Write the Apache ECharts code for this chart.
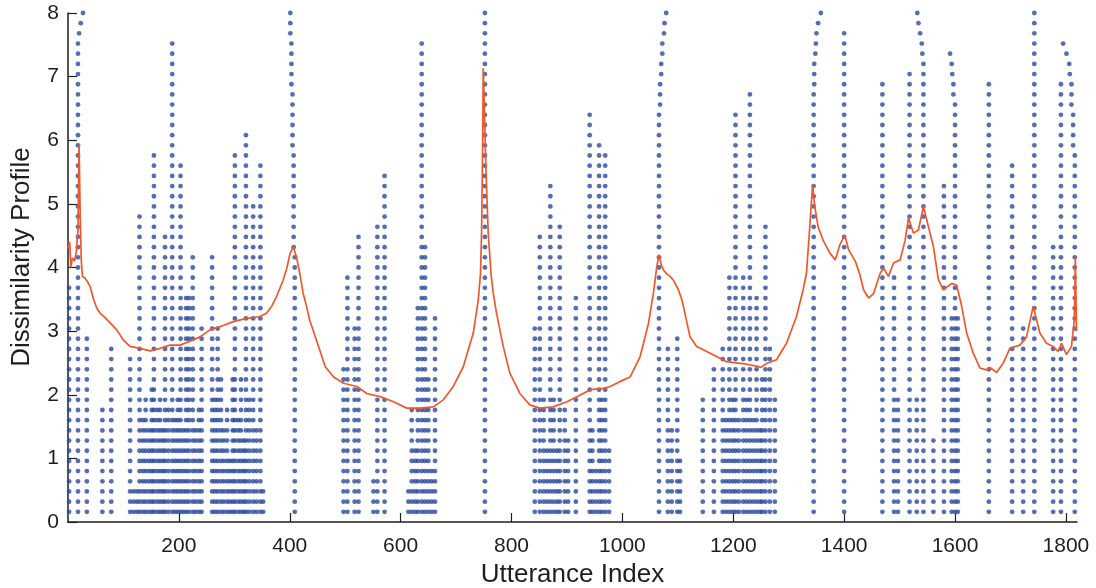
<!DOCTYPE html>
<html>
<head>
<meta charset="utf-8">
<script src="https://cdn.jsdelivr.net/npm/echarts@6/dist/echarts.min.js"></script>
<style>
html,body{margin:0;padding:0;background:#fff;}
#chart{width:1096px;height:588px;}
</style>
</head>
<body>
<div id="chart"></div>
<script>
// ---- data ----
// dot columns: utterance index, first row, last row (rows are multiples of rowStep)
const rowStep = 0.16;
const dotColX = [
  2, 18, 20, 23, 27, 34, 62, 78,
  112, 118, 124, 129, 135, 140, 146, 151, 155, 161, 166, 171, 175, 181, 188, 193, 198, 203, 208, 213, 218, 225, 230, 236, 241,
  260, 265, 270, 276, 281, 287, 292, 297, 301, 307, 312, 317, 321, 327, 334, 340, 347, 352,
  409, 407, 405, 403, 401,
  497, 504, 517, 524, 551, 558, 571,
  614, 620, 626, 631, 638, 644, 650, 656, 662,
  752,
  842, 851, 858, 864, 870, 876, 882, 887, 896, 902, 916,
  941, 946, 952, 958, 963, 969, 976,
  1066, 1068, 1070, 1072, 1075, 1076, 1079, 1082, 1089, 1099, 1104,
  1145,
  1165, 1181, 1187, 1193, 1199, 1204, 1210, 1218, 1224, 1230, 1236, 1242, 1248, 1252, 1258, 1266, 1275,
  1345, 1346, 1348, 1349, 1350, 1353, 1358,
  1400,
  1469, 1490, 1497, 1518, 1531, 1543, 1541, 1540, 1537, 1534, 1532, 1561,
  1580, 1594, 1600, 1597, 1595, 1594, 1591, 1605,
  1661, 1703, 1723, 1743,
  1777, 1791, 1816, 1813, 1810, 1807, 1806, 1801, 1795
];
const dotColFrom = [
  1, 1, 48, 49, 50, 1, 1, 1,
  1, 1, 1, 1, 1, 1, 1, 1, 1, 1, 1, 1, 1, 1, 1, 1, 1, 1, 1, 1, 1, 1, 1, 1, 1,
  1, 1, 1, 1, 1, 1, 1, 1, 1, 1, 1, 1, 1, 1, 1, 1, 1, 1,
  1, 27, 37, 43, 48,
  1, 1, 1, 1, 1, 1, 1,
  1, 1, 1, 1, 1, 1, 1, 1, 1,
  1,
  1, 1, 1, 1, 1, 1, 1, 1, 1, 1, 1,
  1, 1, 1, 1, 1, 1, 1,
  1, 41, 44, 46, 48, 49, 50, 1, 1, 1, 1,
  1,
  1, 1, 1, 1, 1, 1, 1, 1, 1, 1, 1, 1, 1, 1, 1, 1, 1,
  1, 43, 46, 47, 48, 49, 50,
  1,
  1, 1, 1, 1, 1, 1, 46, 47, 48, 49, 50, 1,
  1, 1, 1, 42, 44, 45, 46, 1,
  1, 1, 1, 1,
  1, 1, 1, 37, 41, 44, 45, 46, 47
];
const dotColTo = [
  23, 47, 48, 49, 50, 18, 11, 17,
  16, 3, 3, 30, 10, 12, 9, 13, 36, 11, 12, 9, 28, 11, 47, 10, 12, 35, 9, 22, 22, 26, 9, 11, 19,
  26, 12, 19, 14, 9, 11, 6, 14, 36, 10, 14, 8, 38, 12, 31, 9, 35, 3,
  26, 36, 42, 47, 50,
  15, 24, 19, 28, 4, 29, 34,
  3, 11, 7, 21, 47, 27, 14, 5, 20,
  50,
  19, 28, 12, 7, 33, 12, 7, 29, 11, 8, 22,
  40, 9, 5, 37, 12, 36, 7,
  40, 43, 45, 47, 48, 49, 50, 17, 9, 18, 6,
  12,
  15, 17, 10, 24, 12, 40, 10, 24, 12, 42, 10, 22, 9, 14, 29, 17, 12,
  42, 45, 46, 47, 48, 49, 50,
  48,
  43, 24, 12, 44, 12, 45, 46, 47, 48, 49, 50, 8,
  33, 20, 41, 43, 44, 45, 46, 20,
  43, 35, 19, 50,
  27, 43, 36, 40, 43, 44, 45, 46, 47
];

// dissimilarity profile (utterance index, value)
const profileX = [
  0, 3, 5, 8, 12, 15, 18, 20, 22, 24, 26, 30, 35, 40, 46, 52, 58, 66, 76, 88, 100, 112, 130, 148, 166, 184, 202, 220, 238, 256, 274, 298, 322, 346, 358, 368, 376, 388, 395, 400, 406, 412, 418, 424, 430, 436, 448, 464, 479, 497, 521, 539, 563, 587, 611, 635, 659, 677, 695, 713, 731, 740, 744, 746, 748, 749, 751, 754, 758, 763, 767, 773, 785, 797, 815, 833, 851, 875, 900, 918, 942, 966, 978, 996, 1014, 1032, 1047, 1056, 1062, 1066, 1070, 1074, 1080, 1086, 1092, 1095, 1101, 1107, 1110, 1122, 1134, 1152, 1170, 1188, 1206, 1224, 1242, 1250, 1260, 1278, 1296, 1314, 1326, 1332, 1338, 1343, 1347, 1353, 1362, 1374, 1384, 1392, 1401, 1408, 1420, 1428, 1435, 1444, 1453, 1465, 1471, 1480, 1489, 1501, 1510, 1516, 1525, 1534, 1543, 1552, 1561, 1570, 1579, 1594, 1603, 1612, 1621, 1633, 1645, 1657, 1663, 1675, 1687, 1699, 1717, 1729, 1741, 1753, 1765, 1777, 1786, 1792, 1801, 1810, 1815, 1816, 1817, 1819
];
const profileY = [
  4.30, 4.40, 4.00, 4.15, 4.10, 4.25, 4.60, 5.93, 4.80, 4.10, 3.86, 3.84, 3.78, 3.70, 3.50, 3.36, 3.28, 3.22, 3.13, 3.02, 2.86, 2.76, 2.73, 2.69, 2.73, 2.78, 2.78, 2.84, 2.91, 3.02, 3.07, 3.15, 3.20, 3.23, 3.28, 3.40, 3.54, 3.80, 4.00, 4.20, 4.33, 4.17, 3.91, 3.60, 3.40, 3.17, 2.86, 2.44, 2.28, 2.18, 2.13, 2.02, 1.97, 1.89, 1.79, 1.79, 1.81, 1.92, 2.13, 2.44, 2.97, 3.49, 3.90, 4.54, 6.00, 7.13, 6.50, 5.50, 4.54, 3.90, 3.60, 3.28, 2.76, 2.34, 2.02, 1.84, 1.79, 1.81, 1.89, 1.97, 2.08, 2.10, 2.13, 2.21, 2.28, 2.60, 3.12, 3.60, 4.01, 4.20, 4.05, 3.96, 3.90, 3.86, 3.80, 3.83, 3.65, 3.50, 3.39, 2.91, 2.76, 2.68, 2.60, 2.52, 2.50, 2.48, 2.45, 2.43, 2.49, 2.55, 2.81, 3.23, 3.65, 3.91, 4.64, 5.30, 4.96, 4.64, 4.43, 4.23, 4.12, 4.35, 4.51, 4.28, 4.10, 3.90, 3.65, 3.52, 3.59, 3.91, 3.99, 3.86, 4.07, 4.12, 4.43, 4.78, 4.54, 4.59, 4.96, 4.64, 4.33, 3.81, 3.65, 3.75, 3.72, 3.39, 2.97, 2.65, 2.42, 2.39, 2.43, 2.35, 2.50, 2.73, 2.78, 2.91, 3.39, 2.97, 2.81, 2.76, 2.68, 2.81, 2.63, 2.76, 3.17, 3.50, 4.17, 3.00
];

const xTickLabels = [200, 400, 600, 800, 1000, 1200, 1400, 1600, 1800];
const yTickLabels = [0, 1, 2, 3, 4, 5, 6, 7, 8];
const xTitle = 'Utterance Index';
const yTitle = 'Dissimilarity Profile';

// ---- build series data ----
const dots = [];
for (let i = 0; i < dotColX.length; i++) {
  for (let k = dotColFrom[i]; k <= dotColTo[i]; k++) {
    dots.push([dotColX[i], +(k * rowStep).toFixed(2)]);
  }
}
const profile = profileX.map((x, i) => [x, profileY[i]]);

const FONT = '"Liberation Sans", Arial, Helvetica, sans-serif';
const chart = echarts.init(document.getElementById('chart'), null, {renderer: 'canvas'});
chart.setOption({
  animation: false,
  backgroundColor: '#ffffff',
  grid: {left: 68, right: 19, top: 13, bottom: 66, containLabel: false, outerBoundsMode: 'none'},
  xAxis: {
    type: 'value', min: 0, max: 1820,
    name: xTitle, nameLocation: 'middle', nameGap: 37,
    nameTextStyle: {fontFamily: FONT, fontSize: 26, color: '#1e1e1e'},
    axisLine: {show: true, lineStyle: {color: '#1e1e1e', width: 1.5}},
    axisTick: {show: true, inside: true, length: 9, lineStyle: {color: '#1e1e1e', width: 1.2}, customValues: xTickLabels},
    axisLabel: {show: true, margin: 14, fontFamily: FONT, fontSize: 21, color: '#1e1e1e', customValues: xTickLabels, formatter: v => String(v)},
    splitLine: {show: false}
  },
  yAxis: {
    type: 'value', min: 0, max: 8, interval: 1,
    axisLine: {show: true, lineStyle: {color: '#1e1e1e', width: 1.5}},
    axisTick: {show: true, inside: true, length: 9, lineStyle: {color: '#1e1e1e', width: 1.2}, customValues: yTickLabels},
    axisLabel: {show: true, margin: 9, fontFamily: FONT, fontSize: 21, color: '#1e1e1e', customValues: yTickLabels, formatter: v => String(v)},
    splitLine: {show: false}
  },
  graphic: [{
    type: 'text', x: 22, y: 257, rotation: Math.PI / 2,
    style: {text: yTitle, font: '26px ' + FONT, fill: '#1e1e1e', align: 'center', verticalAlign: 'middle'}
  }],
  series: [
    {
      type: 'scatter', name: 'boundaries', data: dots,
      symbol: 'circle', symbolSize: 4.8,
      itemStyle: {color: '#2a4a9f'}, z: 2, silent: true
    },
    {
      type: 'line', name: 'profile', data: profile,
      showSymbol: false, symbol: 'none',
      lineStyle: {color: '#f2572a', width: 1.7},
      z: 3, silent: true
    }
  ]
});
</script>
</body>
</html>
